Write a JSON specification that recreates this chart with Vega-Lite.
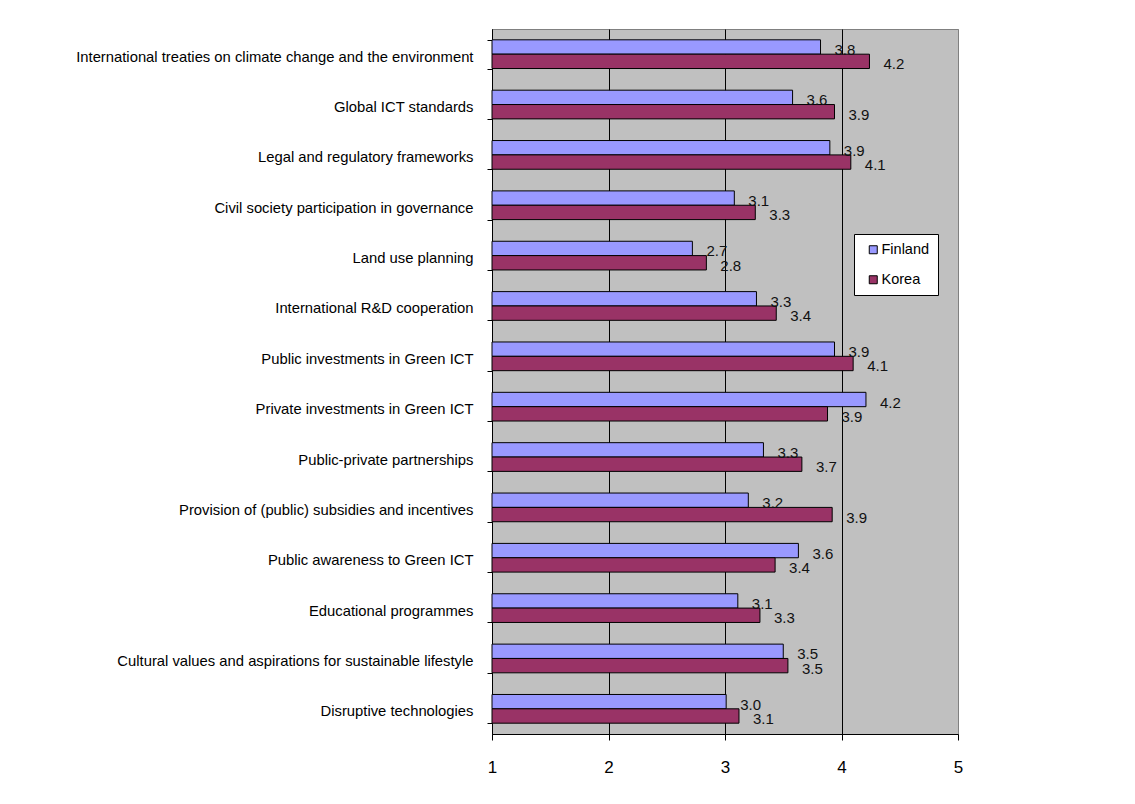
{
  "$schema": "https://vega.github.io/schema/vega-lite/v6.json",
  "autosize": "none",
  "padding": {"left": 492, "top": 29, "right": 177, "bottom": 70},
  "width": 466,
  "height": 705,
  "background": "white",
  "data": {
    "values": [
      {"category": "International treaties on climate change and the environment", "country": "Finland", "value": 3.82},
      {"category": "International treaties on climate change and the environment", "country": "Korea", "value": 4.24},
      {"category": "Global ICT standards", "country": "Finland", "value": 3.58},
      {"category": "Global ICT standards", "country": "Korea", "value": 3.94},
      {"category": "Legal and regulatory frameworks", "country": "Finland", "value": 3.9},
      {"category": "Legal and regulatory frameworks", "country": "Korea", "value": 4.08},
      {"category": "Civil society participation in governance", "country": "Finland", "value": 3.08},
      {"category": "Civil society participation in governance", "country": "Korea", "value": 3.26},
      {"category": "Land use planning", "country": "Finland", "value": 2.72},
      {"category": "Land use planning", "country": "Korea", "value": 2.84},
      {"category": "International R&D cooperation", "country": "Finland", "value": 3.27},
      {"category": "International R&D cooperation", "country": "Korea", "value": 3.44},
      {"category": "Public investments in Green ICT", "country": "Finland", "value": 3.94},
      {"category": "Public investments in Green ICT", "country": "Korea", "value": 4.1},
      {"category": "Private investments in Green ICT", "country": "Finland", "value": 4.21},
      {"category": "Private investments in Green ICT", "country": "Korea", "value": 3.88},
      {"category": "Public-private partnerships", "country": "Finland", "value": 3.33},
      {"category": "Public-private partnerships", "country": "Korea", "value": 3.66},
      {"category": "Provision of (public) subsidies and incentives", "country": "Finland", "value": 3.2},
      {"category": "Provision of (public) subsidies and incentives", "country": "Korea", "value": 3.92},
      {"category": "Public awareness to Green ICT", "country": "Finland", "value": 3.63},
      {"category": "Public awareness to Green ICT", "country": "Korea", "value": 3.43},
      {"category": "Educational programmes", "country": "Finland", "value": 3.11},
      {"category": "Educational programmes", "country": "Korea", "value": 3.3},
      {"category": "Cultural values and aspirations for sustainable lifestyle", "country": "Finland", "value": 3.5},
      {"category": "Cultural values and aspirations for sustainable lifestyle", "country": "Korea", "value": 3.54},
      {"category": "Disruptive technologies", "country": "Finland", "value": 3.01},
      {"category": "Disruptive technologies", "country": "Korea", "value": 3.12}
    ]
  },
  "encoding": {
    "y": {
      "field": "category",
      "type": "nominal",
      "sort": null,
      "title": null,
      "scale": {"paddingInner": 0.43, "paddingOuter": 0.215},
      "axis": {
        "tickBand": "extent",
        "tickSize": 5,
        "tickColor": "black",
        "domainColor": "black",
        "labelPadding": 14,
        "labelOffset": 3,
        "labelFont": "Liberation Sans",
        "labelFontSize": 14.8,
        "labelColor": "black",
        "labelLimit": 600,
        "grid": false
      }
    },
    "yOffset": {
      "field": "country",
      "type": "nominal",
      "scale": {"domain": ["Finland", "Korea"], "paddingInner": 0, "paddingOuter": 0}
    },
    "x": {
      "field": "value",
      "type": "quantitative",
      "title": null,
      "scale": {"domain": [1, 5], "nice": false, "zero": false},
      "axis": {
        "values": [1, 2, 3, 4, 5],
        "format": "d",
        "tickSize": 6,
        "tickColor": "black",
        "domainColor": "black",
        "labelPadding": 19,
        "labelFlush": false,
        "labelFont": "Liberation Sans",
        "labelFontSize": 17,
        "labelColor": "black",
        "grid": true,
        "gridColor": {"condition": {"test": "datum.value === 5", "value": "#808080"}, "value": "black"},
        "gridOpacity": 1
      }
    }
  },
  "layer": [
    {
      "mark": {"type": "bar", "stroke": "black", "strokeWidth": 1},
      "encoding": {
        "x2": {"datum": 1},
        "color": {
          "field": "country",
          "type": "nominal",
          "scale": {"domain": ["Finland", "Korea"], "range": ["#9999FF", "#993366"]},
          "legend": {
            "title": null,
            "orient": "none",
            "legendX": 362,
            "legendY": 205,
            "fillColor": "white",
            "strokeColor": "black",
            "padding": 8.5,
            "symbolType": "square",
            "symbolSize": 64,
            "symbolStrokeColor": "black",
            "symbolStrokeWidth": 1,
            "symbolOffset": 3.5,
            "labelOffset": 1,
            "labelFont": "Liberation Sans",
            "labelFontSize": 14.5,
            "labelColor": "black",
            "rowPadding": 15
          }
        }
      }
    },
    {
      "mark": {"type": "text", "align": "left", "baseline": "middle", "dx": 14, "dy": 3, "font": "Liberation Sans", "fontSize": 15, "color": "#111111"},
      "encoding": {
        "text": {"field": "value", "type": "quantitative", "format": ".1f"}
      }
    }
  ],
  "config": {
    "view": {"fill": "#C0C0C0", "stroke": "#808080", "strokeWidth": 1}
  }
}
